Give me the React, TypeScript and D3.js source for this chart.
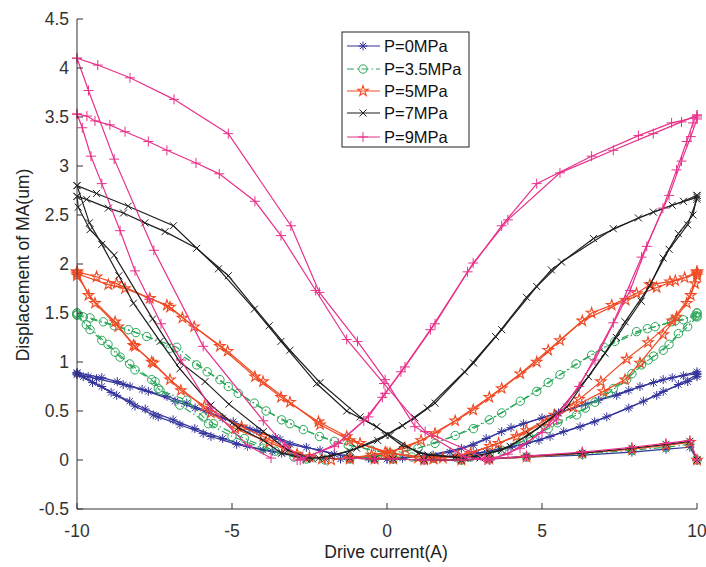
import * as d3 from 'd3';

type Pt = [number, number];

// tick labels
const xTicks = [-10, -5, 0, 5, 10];
const yTicks = [-0.5, 0, 0.5, 1, 1.5, 2, 2.5, 3, 3.5, 4, 4.5];

// flat bottom sweep shared by all pressures
const flatX = [-1.2, -0.4, 0.2, 1.2, 2.4, 3.3, 4.5, 6.3, 7.9, 9.0, 9.77, 10.0];
const flatP0 = [0.02, 0.01, 0.01, 0.0, 0.0, 0.01, 0.03, 0.05, 0.08, 0.11, 0.13, 0.0];
const flatP35 = [0.02, 0.01, 0.01, 0.0, 0.0, 0.01, 0.03, 0.06, 0.1, 0.13, 0.16, 0.0];
const flatP5 = [0.02, 0.01, 0.01, 0.0, 0.0, 0.01, 0.03, 0.07, 0.11, 0.15, 0.18, 0.0];
const flatP7 = [0.02, 0.01, 0.01, 0.0, 0.0, 0.01, 0.04, 0.07, 0.12, 0.16, 0.19, 0.0];
const flatP9 = [0.02, 0.01, 0.01, 0.0, 0.0, 0.01, 0.04, 0.08, 0.13, 0.17, 0.2, 0.0];

// P=0MPa
const p0Branches: Pt[][] = [
  [[-10, 0.88], [-9.64, 0.85], [-9.37, 0.83], [-8.51, 0.77], [-8.29, 0.75], [-7.7, 0.7], [-7.1, 0.65], [-6.46, 0.58], [-5.76, 0.49], [-4.96, 0.39], [-4.2, 0.3], [-3.45, 0.21], [-3.13, 0.16], [-2.16, 0.1], [-1.3, 0.03], [0, 0.01]],
  [[-10, 0.89], [-9.2, 0.84], [-8.7, 0.8], [-7.9, 0.72], [-6.84, 0.6], [-6.19, 0.53], [-5.3, 0.43], [-4.42, 0.31], [-3.6, 0.23], [-2.6, 0.13], [-1.7, 0.06], [-0.6, 0.02]],
  [[-10, 0.89], [-9.8, 0.85], [-9.2, 0.75], [-8.72, 0.66], [-8.13, 0.55], [-7.54, 0.46], [-7.38, 0.44], [-6.68, 0.36], [-5.93, 0.27], [-5.68, 0.24], [-4.85, 0.16], [-3.99, 0.1], [-3.4, 0.07], [-2.5, 0.03], [-1.5, 0.01]],
  [[-10, 0.87], [-9.5, 0.79], [-8.9, 0.69], [-8.3, 0.6], [-7.8, 0.52], [-6.9, 0.41], [-6.2, 0.32], [-5.3, 0.22], [-4.5, 0.14], [-3.7, 0.09], [-2.8, 0.04], [-2.0, 0.01]],
  [[10, 0.88], [9.56, 0.86], [8.91, 0.82], [8.16, 0.75], [7.41, 0.66], [6.82, 0.61], [5.53, 0.48], [4.4, 0.37], [3.7, 0.29], [2.78, 0.15], [2.03, 0.08], [1.49, 0.05], [0.5, 0.02], [-0.5, 0.01]],
  [[10, 0.9], [9.2, 0.84], [8.6, 0.79], [7.8, 0.71], [6.4, 0.57], [5.0, 0.43], [4.0, 0.33], [3.2, 0.22], [2.4, 0.12], [1.2, 0.04], [0.0, 0.01]],
  [[10, 0.85], [9.7, 0.8], [8.91, 0.7], [8.27, 0.6], [7.09, 0.44], [6.23, 0.34], [5.26, 0.24], [4.5, 0.17], [3.6, 0.11], [2.89, 0.07], [1.5, 0.02]],
  [[10, 0.87], [9.4, 0.77], [8.7, 0.66], [7.8, 0.53], [6.7, 0.39], [5.7, 0.29], [4.9, 0.2], [4.0, 0.13], [3.2, 0.08], [2.2, 0.03]],
];

// P=3.5MPa
const p35Branches: Pt[][] = [
  [[-10, 1.5], [-9.58, 1.45], [-9.15, 1.41], [-8.34, 1.33], [-7.75, 1.26], [-7.0, 1.14], [-6.14, 0.97], [-5.39, 0.82], [-5.12, 0.75], [-4.28, 0.58], [-3.4, 0.41], [-3.13, 0.37], [-2.18, 0.24], [-1.25, 0.15], [0.1, 0.07], [1.5, 0.02]],
  [[-10, 1.48], [-9.8, 1.46], [-8.8, 1.37], [-8.1, 1.3], [-6.78, 1.15], [-5.8, 0.9], [-4.8, 0.68], [-3.9, 0.5], [-2.7, 0.31], [-1.7, 0.19], [-0.5, 0.1], [0.8, 0.03]],
  [[-10, 1.5], [-9.58, 1.33], [-9.2, 1.22], [-8.77, 1.1], [-8.61, 1.05], [-8.13, 0.92], [-7.59, 0.82], [-7.38, 0.73], [-6.68, 0.56], [-5.76, 0.37], [-5.0, 0.24], [-4.0, 0.12], [-3.0, 0.03], [-2.0, 0.0]],
  [[-10, 1.48], [-9.7, 1.38], [-9.0, 1.18], [-8.3, 0.98], [-7.48, 0.8], [-7.32, 0.71], [-6.46, 0.61], [-5.93, 0.44], [-5.6, 0.37], [-4.6, 0.22], [-3.6, 0.09], [-2.6, 0.01]],
  [[10, 1.5], [9.56, 1.43], [9.18, 1.41], [8.65, 1.36], [8.05, 1.31], [7.35, 1.21], [6.6, 1.07], [5.58, 0.87], [4.83, 0.7], [3.7, 0.48], [2.79, 0.32], [1.55, 0.17], [0.4, 0.07], [-0.06, 0.05], [-1.2, 0.01]],
  [[10, 1.47], [9.3, 1.42], [8.4, 1.34], [7.0, 1.15], [6.1, 0.98], [5.2, 0.79], [4.3, 0.6], [3.3, 0.41], [2.2, 0.25], [1.0, 0.12], [-0.5, 0.03]],
  [[10, 1.5], [9.94, 1.47], [9.4, 1.29], [8.91, 1.12], [8.43, 1.02], [8.21, 0.97], [7.73, 0.82], [7.14, 0.68], [6.71, 0.59], [6.12, 0.46], [5.2, 0.32], [4.3, 0.18], [3.3, 0.07], [2.3, 0.02]],
  [[10, 1.46], [9.7, 1.36], [9.1, 1.18], [8.6, 1.06], [7.9, 0.88], [7.3, 0.73], [6.4, 0.53], [5.5, 0.38], [4.6, 0.23], [3.7, 0.1], [2.7, 0.03]],
];

// P=5MPa
const p5Branches: Pt[][] = [
  [[-10, 1.92], [-9.37, 1.87], [-8.72, 1.8], [-7.65, 1.65], [-7.0, 1.56], [-6.22, 1.36], [-5.39, 1.16], [-4.26, 0.85], [-3.42, 0.64], [-2.21, 0.39], [-1.3, 0.24], [-0.87, 0.17], [0.1, 0.07], [1.5, 0.02]],
  [[-10, 1.9], [-8.99, 1.79], [-8.45, 1.75], [-7.1, 1.58], [-6.6, 1.45], [-5.14, 1.11], [-4.0, 0.8], [-3.13, 0.59], [-2.16, 0.36], [-1.2, 0.2], [-0.06, 0.08], [1.0, 0.02]],
  [[-10, 1.92], [-9.63, 1.68], [-8.77, 1.41], [-8.13, 1.16], [-7.59, 1.0], [-6.65, 0.71], [-5.89, 0.55], [-4.69, 0.34], [-3.99, 0.24], [-3.29, 0.12], [-2.5, 0.03]],
  [[-10, 1.88], [-9.42, 1.6], [-8.67, 1.36], [-8.18, 1.17], [-7.54, 0.99], [-7.0, 0.82], [-5.68, 0.48], [-4.9, 0.32], [-3.8, 0.18], [-2.9, 0.06], [-2.1, 0.01]],
  [[10, 1.92], [9.6, 1.86], [9.13, 1.82], [8.48, 1.79], [8.05, 1.7], [7.25, 1.58], [6.6, 1.5], [5.58, 1.22], [4.83, 1.0], [3.7, 0.73], [2.78, 0.51], [1.55, 0.27], [0.58, 0.12], [-0.5, 0.05], [-1.8, 0.0]],
  [[10, 1.9], [9.3, 1.83], [8.7, 1.76], [7.7, 1.63], [6.3, 1.42], [5.2, 1.12], [4.3, 0.88], [3.3, 0.64], [2.2, 0.4], [1.1, 0.2], [0.0, 0.07], [-1.2, 0.01]],
  [[10, 1.92], [9.94, 1.8], [9.67, 1.6], [9.34, 1.46], [8.91, 1.28], [8.16, 0.99], [7.68, 0.82], [6.98, 0.7], [6.01, 0.54], [5.15, 0.39], [4.18, 0.24], [3.32, 0.14], [2.3, 0.04], [1.5, 0.01]],
  [[10, 1.88], [9.8, 1.68], [9.2, 1.42], [8.42, 1.2], [7.73, 1.03], [6.9, 0.8], [6.2, 0.62], [5.4, 0.46], [4.5, 0.3], [3.6, 0.17], [2.7, 0.07], [1.8, 0.02]],
];

// P=7MPa
const p7Branches: Pt[][] = [
  [[-10, 2.8], [-9.37, 2.72], [-8.35, 2.59], [-6.89, 2.39], [-5.44, 1.95], [-4.28, 1.54], [-3.42, 1.21], [-2.27, 0.78], [-1.3, 0.5], [-0.33, 0.34], [0.47, 0.15], [1.33, 0.05], [2.19, 0.03], [3.0, 0.02]],
  [[-10, 2.69], [-9.69, 2.66], [-8.99, 2.57], [-8.5, 2.52], [-7.81, 2.42], [-7.16, 2.33], [-6.14, 2.16], [-5.12, 1.88], [-3.8, 1.37], [-3.13, 1.12], [-2.16, 0.79], [-0.87, 0.44], [0.1, 0.25], [1.01, 0.07], [2.5, 0.02]],
  [[-10, 2.8], [-9.6, 2.42], [-9.2, 2.2], [-8.65, 1.88], [-8.18, 1.6], [-7.32, 1.21], [-6.68, 0.93], [-5.68, 0.56], [-4.8, 0.33], [-3.99, 0.2], [-3.4, 0.07], [-2.6, 0.01]],
  [[-10, 2.69], [-9.96, 2.58], [-9.58, 2.35], [-8.8, 2.09], [-7.56, 1.44], [-6.68, 1.0], [-5.87, 0.8], [-5.1, 0.57], [-3.99, 0.29], [-3.2, 0.1], [-2.4, 0.01]],
  [[10, 2.7], [9.56, 2.64], [8.59, 2.53], [7.3, 2.36], [5.63, 2.02], [4.83, 1.77], [3.7, 1.33], [2.79, 0.99], [1.55, 0.58], [0.9, 0.43], [-0.06, 0.25], [-0.98, 0.12], [-1.8, 0.04], [-2.6, 0.01]],
  [[10, 2.68], [9.2, 2.6], [8.11, 2.47], [6.66, 2.26], [5.3, 1.94], [4.5, 1.66], [3.5, 1.26], [2.5, 0.9], [1.3, 0.53], [0.5, 0.35], [-0.3, 0.2], [-1.2, 0.09], [-2.2, 0.02]],
  [[10, 2.7], [9.87, 2.5], [9.4, 2.31], [8.91, 2.06], [8.48, 1.78], [7.68, 1.41], [7.03, 1.09], [5.8, 0.54], [4.94, 0.34], [3.97, 0.14], [3.32, 0.07], [2.5, 0.02]],
  [[10, 2.66], [9.7, 2.4], [9.1, 2.15], [8.2, 1.62], [7.4, 1.25], [6.5, 0.85], [5.5, 0.48], [4.6, 0.26], [3.7, 0.1], [2.8, 0.03]],
];

// P=9MPa
const p9Branches: Pt[][] = [
  [[-10, 4.1], [-9.33, 4.03], [-8.29, 3.9], [-6.87, 3.68], [-5.12, 3.33], [-3.1, 2.39], [-2.18, 1.71], [-0.95, 1.21], [-0.06, 0.82], [0.9, 0.34], [2.52, 0.03], [3.3, 0.0]],
  [[-10, 3.53], [-9.68, 3.51], [-9.42, 3.46], [-8.94, 3.42], [-8.45, 3.35], [-7.7, 3.25], [-7.1, 3.16], [-6.16, 3.03], [-5.41, 2.92], [-4.26, 2.64], [-3.42, 2.29], [-2.3, 1.73], [-1.3, 1.23], [-0.1, 0.78], [1.23, 0.29], [3.16, 0.02]],
  [[-10, 4.1], [-9.63, 3.77], [-8.8, 3.07], [-7.52, 2.14], [-5.93, 1.16], [-3.99, 0.4], [-3.3, 0.15], [-2.7, 0.01]],
  [[-10, 3.53], [-9.83, 3.39], [-9.55, 3.1], [-9.2, 2.82], [-8.61, 2.34], [-8.13, 1.93], [-7.67, 1.64], [-7.29, 1.39], [-6.65, 1.02], [-5.68, 0.53], [-4.5, 0.15], [-3.74, 0.02]],
  [[10, 3.52], [9.5, 3.45], [8.59, 3.33], [7.3, 3.16], [5.58, 2.93], [3.9, 2.45], [2.78, 2.01], [1.55, 1.39], [0.58, 0.95], [-0.06, 0.68], [-0.6, 0.44], [-1.57, 0.17], [-2.8, 0.0]],
  [[10, 3.5], [9.18, 3.44], [8.11, 3.31], [6.6, 3.1], [4.83, 2.82], [3.7, 2.39], [2.6, 1.92], [1.4, 1.33], [0.45, 0.9], [-0.15, 0.64], [-0.75, 0.4], [-1.7, 0.14], [-2.9, 0.0]],
  [[10, 3.52], [9.87, 3.44], [9.67, 3.25], [9.34, 2.96], [8.9, 2.57], [8.38, 2.18], [7.84, 1.73], [6.71, 1.02], [5.47, 0.41], [4.29, 0.12], [3.32, 0.0]],
  [[10, 3.48], [9.8, 3.3], [9.5, 3.05], [9.1, 2.7], [8.21, 2.07], [7.3, 1.4], [6.2, 0.75], [5.0, 0.28], [3.9, 0.06], [3.16, 0.0]],
];

const seriesNames = ['P=0MPa', 'P=3.5MPa', 'P=5MPa', 'P=7MPa', 'P=9MPa'];
const seriesBranches = [p0Branches, p35Branches, p5Branches, p7Branches, p9Branches];
const seriesFlat = [flatP0, flatP35, flatP5, flatP7, flatP9];

const colors = ['#33339b', '#2aa85a', '#ef4a24', '#1e1e1e', '#e8308a'];
const markers = ['asterisk', 'circle', 'star', 'cross', 'plus'];
const dashes = [undefined, '7,3,1.5,3', undefined, undefined, undefined];

const W = 706;
const H = 567;
const x = d3.scaleLinear().domain([-10, 10]).range([77, 697]);
const y = d3.scaleLinear().domain([-0.5, 4.5]).range([509, 19]);
const font = '"Liberation Sans", Arial, sans-serif';
const axisColor = '#333';

const line = d3.line<Pt>().x(d => x(d[0])).y(d => y(d[1]));
const starPath = d3.symbol().type(d3.symbolStar).size(34)() as string;

function Marker({ kind, cx, cy, color }: { kind: string; cx: number; cy: number; color: string }) {
  const t = `translate(${cx},${cy})`;
  if (kind === 'circle') return <circle cx={cx} cy={cy} r={4.2} fill="none" stroke={color} strokeWidth={1} />;
  if (kind === 'star') return <path d={starPath} transform={t} fill="none" stroke={color} strokeWidth={1.1} />;
  if (kind === 'plus')
    return <path d="M-5,0H5M0,-5V5" transform={t} stroke={color} strokeWidth={1} fill="none" />;
  if (kind === 'cross')
    return <path d="M-3.5,-3.5L3.5,3.5M-3.5,3.5L3.5,-3.5" transform={t} stroke={color} strokeWidth={1} fill="none" />;
  return (
    <path d="M-4.5,0H4.5M0,-4.5V4.5M-3.2,-3.2L3.2,3.2M-3.2,3.2L3.2,-3.2" transform={t} stroke={color} strokeWidth={1} fill="none" />
  );
}

export default function App() {
  const legendX = 342;
  const legendY = 32;
  const rowY = [46, 69, 91, 113, 137];

  return (
    <svg width={W} height={H} style={{ position: 'absolute', left: 0, top: 0, background: '#fff' }} fontFamily={font}>
      <rect width={W} height={H} fill="#fff" />

      {/* data */}
      {seriesBranches.map((branches, si) => {
        const flat: Pt[] = flatX.map((v, i) => [v, seriesFlat[si][i]]);
        const all = [...branches, flat];
        return (
          <g key={si}>
            {all.map((b, bi) => (
              <path key={bi} d={line(b) as string} fill="none" stroke={colors[si]} strokeWidth={1.2} strokeDasharray={dashes[si]} />
            ))}
            {all.map((b, bi) =>
              b.map((p, pi) => <Marker key={`${bi}-${pi}`} kind={markers[si]} cx={x(p[0])} cy={y(p[1])} color={colors[si]} />)
            )}
          </g>
        );
      })}

      {/* axes */}
      <line x1={x(-10)} x2={x(-10)} y1={y(4.5)} y2={y(-0.5)} stroke={axisColor} strokeWidth={1} />
      <line x1={x(-10)} x2={x(10)} y1={y(-0.5)} y2={y(-0.5)} stroke={axisColor} strokeWidth={1} />
      {yTicks.map(t => (
        <g key={t}>
          <line x1={x(-10)} x2={x(-10) + 6} y1={y(t)} y2={y(t)} stroke={axisColor} />
          <text x={x(-10) - 8} y={y(t) + 6} textAnchor="end" fontSize={17.5} fill="#333">
            {t}
          </text>
        </g>
      ))}
      {xTicks.map(t => (
        <g key={t}>
          <line x1={x(t)} x2={x(t)} y1={y(-0.5)} y2={y(-0.5) - 6} stroke={axisColor} />
          <text x={x(t)} y={537} textAnchor="middle" fontSize={17.5} fill="#333">
            {t}
          </text>
        </g>
      ))}
      <text x={386} y={558} textAnchor="middle" fontSize={17.5} fill="#222">
        Drive current(A)
      </text>
      <text transform="translate(29,265) rotate(-90)" textAnchor="middle" fontSize={17.5} fill="#222">
        Displacement of MA(um)
      </text>

      {/* legend */}
      <rect x={legendX} y={legendY} width={127} height={115} fill="#fff" stroke="#222" strokeWidth={1} />
      {seriesNames.map((name, i) => (
        <g key={name}>
          <line x1={347} x2={380} y1={rowY[i]} y2={rowY[i]} stroke={colors[i]} strokeWidth={1.2} strokeDasharray={dashes[i]} />
          <Marker kind={markers[i]} cx={363} cy={rowY[i]} color={colors[i]} />
          <text x={384} y={rowY[i] + 6} fontSize={16.5} fill="#111">
            {name}
          </text>
        </g>
      ))}
    </svg>
  );
}
